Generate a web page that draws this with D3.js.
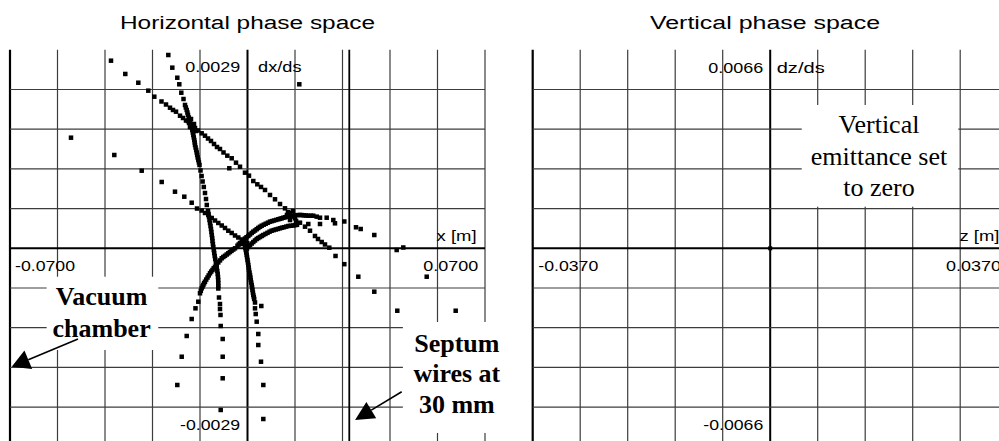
<!DOCTYPE html>
<html>
<head>
<meta charset="utf-8">
<script src="https://cdn.jsdelivr.net/npm/d3@7"></script>
<style>
  html, body { margin: 0; padding: 0; background: #fff; overflow: hidden; }
  svg { display: block; }
</style>
</head>
<body>
<svg id="chart" width="999" height="441"></svg>
<script>
// ---- Horizontal phase space: tracked particles, x [mm] vs dx/ds [mrad] ----
const diagonalArm = [
  [-40.23, 2.741], [-36.02, 2.547], [-32.18, 2.419], [-29.24, 2.303], [-27.47, 2.215], [-25.35, 2.145],
  [-24.02, 2.101], [-22.84, 2.054], [-21.96, 2.021], [-21.07, 1.996], [-19.89, 1.937], [-19.01, 1.904],
  [-18.13, 1.867], [-17.24, 1.831], [-16.36, 1.794], [-15.47, 1.758], [-14.59, 1.721], [-13.50, 1.680],
  [-12.53, 1.645], [-11.64, 1.604], [-10.76, 1.568], [-9.87, 1.524], [-8.99, 1.480], [-8.11, 1.451],
  [-7.07, 1.400], [-5.95, 1.353], [-4.66, 1.315], [-3.39, 1.251], [-2.21, 1.192], [-0.74, 1.105],
  [0.44, 1.061], [1.71, 0.983], [2.89, 0.935], [3.98, 0.896], [5.16, 0.852], [6.63, 0.779],
  [8.11, 0.716], [9.58, 0.647], [11.05, 0.584], [12.53, 0.516], [14.00, 0.438], [15.47, 0.374],
  [16.95, 0.316], [18.42, 0.257], [19.89, 0.180], [20.78, 0.136], [21.87, 0.092], [22.84, 0.056],
  [24.11, 0.009], [25.94, -0.112], [28.53, -0.232], [32.66, -0.415], [37.37, -0.634], [44.15, -0.912]
];

const steepArm = [
  [-23.34, 2.824], [-22.16, 2.639], [-20.69, 2.492], [-20.10, 2.396], [-19.51, 2.273], [-18.86, 2.181],
  [-18.42, 2.094], [-18.18, 2.057], [-17.92, 2.021], [-17.71, 1.984], [-17.54, 1.948], [-17.30, 1.911],
  [-17.09, 1.874], [-16.89, 1.838], [-16.65, 1.801], [-16.45, 1.765], [-16.27, 1.728], [-16.12, 1.692],
  [-15.97, 1.655], [-15.83, 1.619], [-15.68, 1.582], [-15.56, 1.546], [-15.47, 1.509], [-15.30, 1.473],
  [-15.12, 1.436], [-14.97, 1.400], [-14.83, 1.363], [-14.68, 1.327], [-14.50, 1.290], [-14.32, 1.254],
  [-14.15, 1.217], [-13.85, 1.137], [-13.53, 1.056], [-13.23, 0.976], [-12.88, 0.896], [-12.53, 0.808],
  [-12.23, 0.720], [-12.00, 0.633], [-11.64, 0.545], [-11.49, 0.501], [-11.35, 0.457], [-11.20, 0.413],
  [-11.05, 0.370], [-10.90, 0.326], [-10.76, 0.282], [-10.64, 0.238], [-10.52, 0.194], [-10.40, 0.150],
  [-10.32, 0.107], [-10.20, 0.063], [-10.08, 0.019], [-9.93, -0.025], [-9.81, -0.069], [-9.67, -0.112],
  [-9.52, -0.156], [-9.34, -0.200], [-9.20, -0.244], [-9.05, -0.288], [-8.90, -0.332], [-8.78, -0.375],
  [-8.69, -0.419], [-8.64, -0.463], [-8.61, -0.507], [-8.61, -0.551], [-8.61, -0.587], [-8.40, -0.719],
  [-8.11, -0.814], [-8.11, -0.887], [-7.96, -0.974], [-7.90, -1.135], [-7.31, -1.325], [-7.31, -1.584],
  [-7.31, -1.899], [-7.90, -2.362]
];

const lowerLeftArm = [
  [-52.02, 1.616], [-39.26, 1.363], [-31.18, 1.134], [-25.29, 0.969], [-21.37, 0.827], [-18.63, 0.754],
  [-16.45, 0.666], [-14.88, 0.581], [-13.50, 0.552], [-12.53, 0.516], [-11.55, 0.487], [-10.55, 0.443],
  [-9.58, 0.406], [-8.61, 0.370], [-7.60, 0.333], [-6.63, 0.297], [-5.66, 0.257], [-4.66, 0.224],
  [-3.68, 0.187], [-2.71, 0.158], [-1.71, 0.129]
];

const rightLeg = [
  [-1.03, 0.092], [-0.74, 0.034], [-0.62, 0.004], [-0.50, -0.025], [-0.38, -0.061], [-0.24, -0.098],
  [-0.12, -0.134], [0.00, -0.171], [0.12, -0.207], [0.24, -0.244], [0.35, -0.281], [0.44, -0.317],
  [0.59, -0.354], [0.74, -0.390], [0.85, -0.427], [0.97, -0.463], [1.09, -0.500], [1.24, -0.536],
  [1.36, -0.573], [1.47, -0.609], [1.59, -0.646], [1.71, -0.682], [1.86, -0.712], [1.97, -0.741],
  [2.21, -0.792], [2.21, -0.877], [4.07, -0.843], [2.42, -0.960], [2.71, -1.072], [3.18, -1.252],
  [3.18, -1.413], [3.98, -1.657], [4.66, -1.997], [4.66, -2.494]
];

const lowerArc = [
  [-2.21, 0.077], [-2.59, 0.056], [-2.95, 0.037], [-3.68, 0.000], [-4.19, -0.018], [-4.72, -0.037],
  [-5.19, -0.054], [-5.66, -0.073], [-6.13, -0.091], [-6.63, -0.110], [-7.13, -0.127], [-7.60, -0.146],
  [-8.10, -0.177], [-8.61, -0.207], [-9.08, -0.238], [-9.58, -0.269], [-9.96, -0.292], [-10.32, -0.317],
  [-10.70, -0.340], [-11.05, -0.365], [-11.43, -0.396], [-11.79, -0.427], [-12.17, -0.457], [-12.53, -0.488],
  [-12.79, -0.511], [-13.03, -0.536], [-13.26, -0.560], [-13.50, -0.584], [-13.76, -0.621], [-14.00, -0.657],
  [-14.50, -0.780], [-15.33, -0.877], [-16.45, -1.033], [-17.92, -1.281], [-19.39, -1.584], [-20.69, -1.997]
];

const outerArc = [
  [-0.74, 0.143], [-0.27, 0.162], [0.24, 0.180], [0.74, 0.202], [1.24, 0.224], [1.71, 0.243],
  [2.21, 0.260], [2.71, 0.279], [3.18, 0.297], [3.68, 0.314], [4.19, 0.330], [4.80, 0.345],
  [5.39, 0.359], [6.01, 0.374], [6.63, 0.389], [7.22, 0.397], [7.81, 0.406], [8.46, 0.415],
  [9.08, 0.424], [9.58, 0.431], [10.08, 0.438], [10.55, 0.446], [11.05, 0.453], [11.55, 0.459],
  [12.03, 0.465], [12.53, 0.469], [13.03, 0.472], [13.50, 0.478], [14.00, 0.482], [14.74, 0.485],
  [15.47, 0.487], [16.06, 0.485], [16.65, 0.482], [17.24, 0.479], [17.92, 0.476], [18.66, 0.476],
  [19.39, 0.476], [20.40, 0.462], [21.37, 0.447], [23.34, 0.447], [25.29, 0.413], [25.79, 0.365],
  [28.53, 0.392], [31.98, 0.307], [33.36, 0.282], [37.37, 0.194], [43.97, -0.025], [45.92, 0.012]
];

const innerArc = [
  [-0.15, -0.003], [0.29, 0.022], [0.74, 0.048], [1.24, 0.070], [1.71, 0.092], [2.21, 0.114],
  [2.71, 0.136], [3.18, 0.150], [3.68, 0.165], [4.19, 0.180], [4.66, 0.194], [5.28, 0.210],
  [5.89, 0.226], [6.51, 0.243], [7.13, 0.257], [7.75, 0.266], [8.34, 0.275], [8.96, 0.283],
  [9.58, 0.292], [10.17, 0.301], [10.76, 0.308], [11.41, 0.317], [12.03, 0.326], [12.76, 0.330],
  [13.50, 0.333], [14.06, 0.339], [14.59, 0.343], [17.92, 0.355], [21.37, 0.355]
];

const crossingPoints = [
  [-17.54, 1.859], [-16.95, 1.772], [-15.77, 1.816], [-15.18, 1.714], [-16.65, 1.889],
  [11.94, 0.530], [13.12, 0.465], [11.64, 0.487], [13.41, 0.545], [12.53, 0.413], [14.31, 0.399],
  [-1.33, 0.107], [-0.15, 0.077], [-1.62, 0.063]
];

const strayPoints = [
  [-5.36, 1.169], [15.27, 2.396], [52.82, -0.415], [61.36, -0.912]
];

// ---- Vertical phase space: z [mm] vs dz/ds [mrad] (zero emittance) ----
const verticalPoints = [[0, 0]];

// Axis ranges and the labels printed on them (in metres / radians)
const xRange = 70, xpRange = 2.9;        // mm, mrad
const zRange = 37, zpRange = 6.6;        // mm, mrad
const gridDivisions = 5;                 // grid cells per half-axis
const septumPosition = 30;               // mm
const xTickLabels = ["-0.0700", "0.0700"];
const xpTickLabels = ["0.0029", "-0.0029"];
const zTickLabels = ["-0.0370", "0.0370"];
const zpTickLabels = ["0.0066", "-0.0066"];
const panelTitles = ["Horizontal phase space", "Vertical phase space"];
const axisNames = { h: ["x [m]", "dx/ds"], v: ["z [m]", "dz/ds"] };

const vacuumLabel = ["Vacuum", "chamber"];
const septumLabel = ["Septum", "wires at", "30 mm"];
const emittanceLabel = ["Vertical", "emittance set", "to zero"];

// ---------------------------------------------------------------------------
const svg = d3.select("#chart");
const sansFont = "'Liberation Sans', Arial, sans-serif";
const serifFont = "'Liberation Serif', 'Times New Roman', serif";

const panelTop = 49.8, panelHeight = 397, panelWidth = 475;
const left = { x0: 10 }, right = { x0: 532.7 };

const xScale = d3.scaleLinear().domain([-xRange, xRange]).range([left.x0, left.x0 + panelWidth]);
const xpScale = d3.scaleLinear().domain([-xpRange, xpRange]).range([panelTop + panelHeight, panelTop]);
const zScale = d3.scaleLinear().domain([-zRange, zRange]).range([right.x0, right.x0 + panelWidth]);
const zpScale = d3.scaleLinear().domain([-zpRange, zpRange]).range([panelTop + panelHeight, panelTop]);

function drawGrid(g, sx, sy, hr, vr) {
  const vTicks = d3.range(-gridDivisions, gridDivisions + 1).map(i => i * hr / gridDivisions);
  const hTicks = d3.range(-gridDivisions + 1, gridDivisions).map(i => i * vr / gridDivisions);
  g.append("g").selectAll("line").data(vTicks).join("line")
    .attr("x1", d => sx(d)).attr("x2", d => sx(d))
    .attr("y1", sy(vr)).attr("y2", sy(-vr))
    .attr("stroke", (d, i) => i === 0 || d === 0 ? "#000" : "#3c3c3c")
    .attr("stroke-width", (d, i) => i === 0 ? 2.2 : d === 0 ? 2 : 1.2);
  g.append("g").selectAll("line").data(hTicks).join("line")
    .attr("x1", sx(-hr)).attr("x2", sx(hr))
    .attr("y1", d => sy(d)).attr("y2", d => sy(d))
    .attr("stroke", d => d === 0 ? "#000" : "#3c3c3c")
    .attr("stroke-width", d => d === 0 ? 2 : 1.2);
}

function addText(g, str, x, y, opts) {
  const t = g.append("text").attr("x", x).attr("y", y).text(str)
    .attr("font-family", opts.family || sansFont)
    .attr("font-size", opts.size || 15)
    .attr("font-weight", opts.weight || "normal")
    .attr("text-anchor", opts.anchor || "start")
    .attr("fill", "#000");
  if (opts.length) t.attr("textLength", opts.length).attr("lengthAdjust", "spacingAndGlyphs");
  return t;
}

function whiteBox(g, x1, y1, x2, y2) {
  g.append("rect")
    .attr("x", Math.min(x1, x2)).attr("y", Math.min(y1, y2))
    .attr("width", Math.abs(x2 - x1)).attr("height", Math.abs(y2 - y1))
    .attr("fill", "#fff");
}

function arrow(g, tail, tip, headLen, headWidth) {
  const dx = tip[0] - tail[0], dy = tip[1] - tail[1];
  const len = Math.hypot(dx, dy), ux = dx / len, uy = dy / len;
  const bx = tip[0] - ux * headLen, by = tip[1] - uy * headLen;
  const nx = -uy * headWidth / 2, ny = ux * headWidth / 2;
  g.append("line").attr("x1", tail[0]).attr("y1", tail[1]).attr("x2", bx).attr("y2", by)
    .attr("stroke", "#000").attr("stroke-width", 1.6);
  g.append("path")
    .attr("d", `M${tip[0]},${tip[1]}L${bx + nx},${by + ny}L${bx - nx},${by - ny}Z`)
    .attr("fill", "#000");
}

function drawMarks(g, pts, sx, sy, size) {
  g.append("g").selectAll("rect").data(pts).join("rect")
    .attr("x", d => sx(d[0]) - size / 2).attr("y", d => sy(d[1]) - size / 2)
    .attr("width", size).attr("height", size).attr("fill", "#000");
}

// ---- Left panel: horizontal ----
const gh = svg.append("g");
drawGrid(gh, xScale, xpScale, xRange, xpRange);
gh.append("line")
  .attr("x1", xScale(septumPosition)).attr("x2", xScale(septumPosition))
  .attr("y1", xpScale(xpRange)).attr("y2", xpScale(-xpRange))
  .attr("stroke", "#000").attr("stroke-width", 1.8);

// label boxes that mask the grid
whiteBox(gh, xScale(-59.2), xpScale(-0.415), xScale(-26.3), xpScale(-1.486));
whiteBox(gh, xScale(45.8), xpScale(-1.077), xScale(76), xpScale(-2.698));

const hPoints = [].concat(diagonalArm, steepArm, lowerLeftArm, rightLeg, lowerArc,
                          outerArc, innerArc, crossingPoints, strayPoints);
drawMarks(gh, hPoints, xScale, xpScale, 4.5);

addText(gh, panelTitles[0], (xScale(-xRange) + xScale(xRange)) / 2, 29.3,
  { anchor: "middle", size: 18, length: 255 });
addText(gh, xpTickLabels[0], xScale(0) - 7.2, panelTop + 22.5, { anchor: "end", length: 55 });
addText(gh, axisNames.h[1], xScale(0) + 10.6, panelTop + 22.2, { length: 43.5 });
addText(gh, xpTickLabels[1], xScale(0) - 7.4, 430, { anchor: "end", length: 60 });
addText(gh, xTickLabels[0], xScale(-xRange) + 5, xpScale(0) + 22.7, { length: 60 });
addText(gh, xTickLabels[1], xScale(xRange) - 6.8, xpScale(0) + 22.7, { anchor: "end", length: 55 });
addText(gh, axisNames.h[0], xScale(xRange) - 8.4, xpScale(0) - 7.6, { anchor: "end", length: 40 });

// Annotations
const boldSerif = { family: serifFont, size: 26, weight: "bold", anchor: "middle" };
addText(gh, vacuumLabel[0], xScale(-43.0), xpScale(-0.828), boldSerif);
addText(gh, vacuumLabel[1], xScale(-43.0), xpScale(-1.292), boldSerif);
arrow(gh, [xScale(-49.96), xpScale(-1.325)], [xScale(-69.5), xpScale(-1.730)], 18, 20);

addText(gh, septumLabel[0], xScale(61.7), xpScale(-1.511), boldSerif);
addText(gh, septumLabel[1], xScale(61.7), xpScale(-1.949), boldSerif);
addText(gh, septumLabel[2], xScale(61.7), xpScale(-2.411), boldSerif);
arrow(gh, [xScale(45.45), xpScale(-2.095)], [xScale(31.7), xpScale(-2.508)], 19, 19);

// ---- Right panel: vertical ----
const gv = svg.append("g");
drawGrid(gv, zScale, zpScale, zRange, zpRange);
whiteBox(gv, zScale(4.91), zpScale(4.765), zScale(29.3), zpScale(1.383));
drawMarks(gv, verticalPoints, zScale, zpScale, 4);

addText(gv, panelTitles[1], 765, 29.3, { anchor: "middle", size: 18, length: 230 });
addText(gv, zpTickLabels[0], zScale(0) - 6.9, panelTop + 23.2, { anchor: "end", length: 55 });
addText(gv, axisNames.v[1], zScale(0) + 6.5, panelTop + 23.2, { length: 48 });
addText(gv, zpTickLabels[1], zScale(0) - 6.9, 430, { anchor: "end", length: 60 });
addText(gv, zTickLabels[0], zScale(-zRange) + 5.6, zpScale(0) + 22.4, { length: 60 });
addText(gv, zTickLabels[1], zScale(zRange) - 6.7, zpScale(0) + 22.4, { anchor: "end", length: 55 });
addText(gv, axisNames.v[0], zScale(zRange) - 8.3, zpScale(0) - 7.6, { anchor: "end", length: 40 });

const serifReg = { family: serifFont, size: 26, anchor: "middle" };
addText(gv, emittanceLabel[0], zScale(16.95), zpScale(3.834), serifReg);
addText(gv, emittanceLabel[1], zScale(16.95), zpScale(2.770), serifReg);
addText(gv, emittanceLabel[2], zScale(16.95), zpScale(1.739), serifReg);
</script>
</body>
</html>
